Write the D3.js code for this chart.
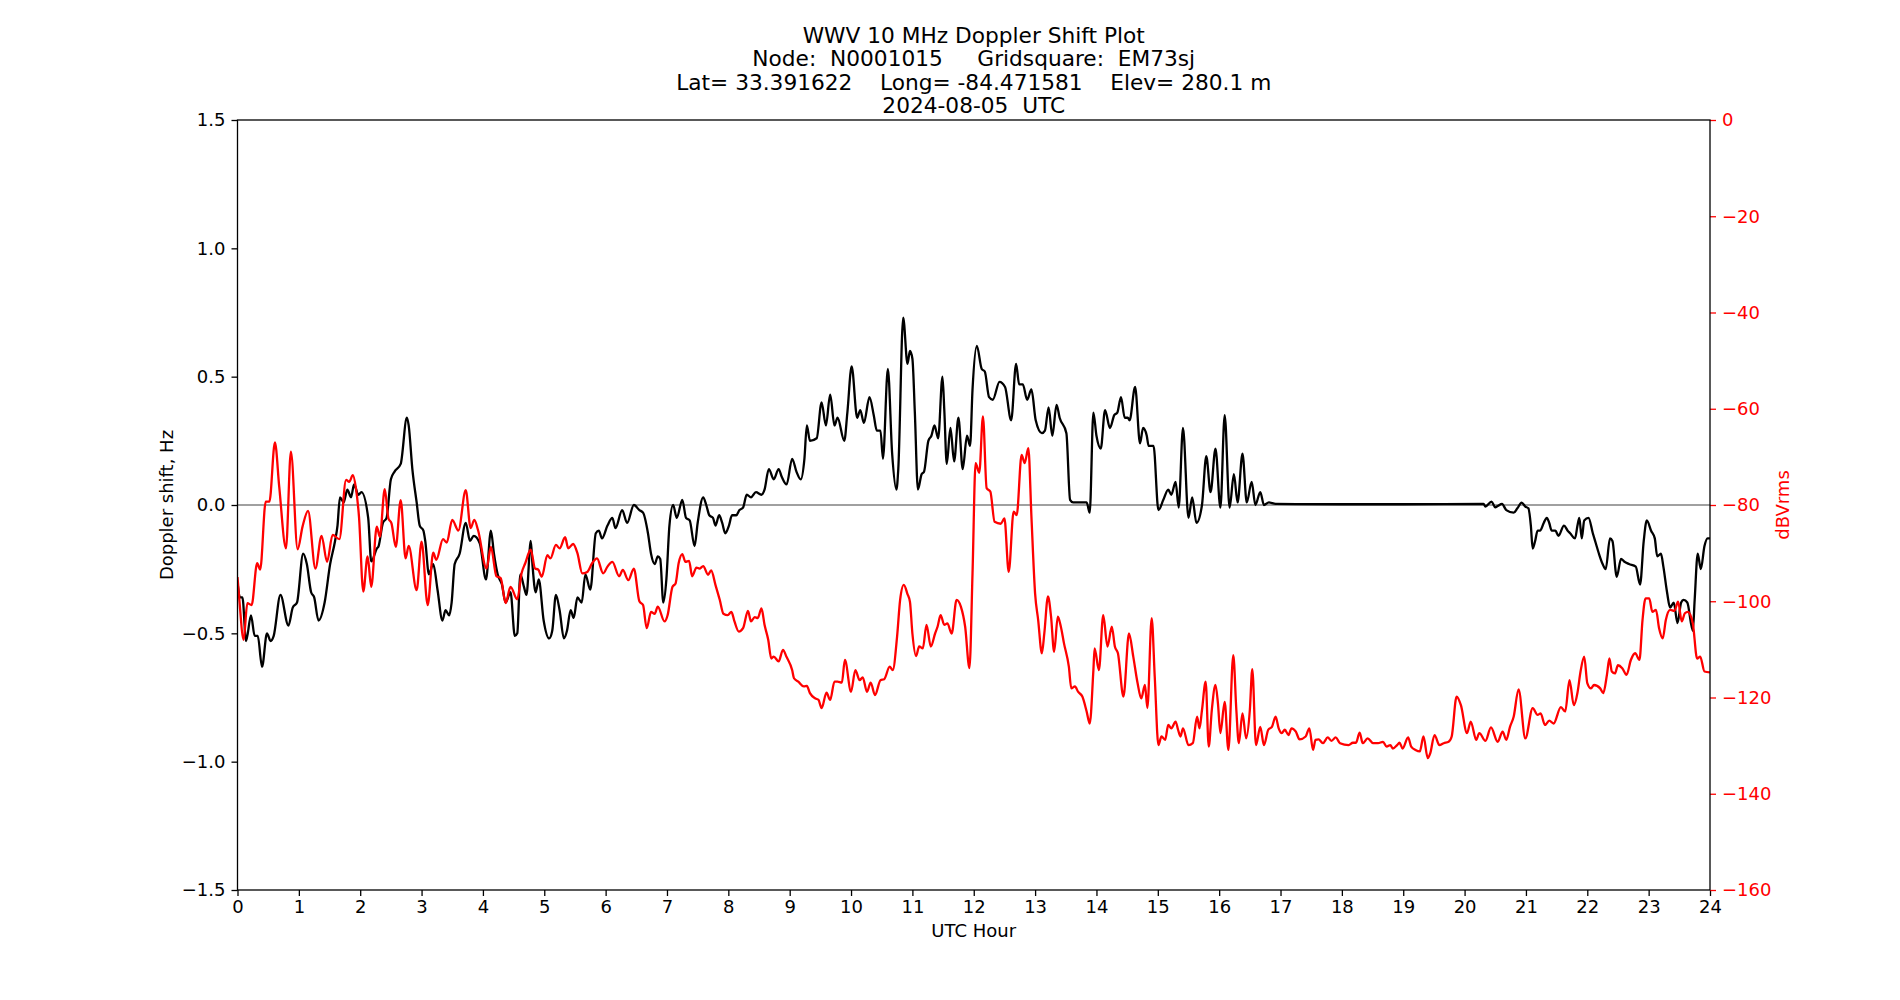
<!DOCTYPE html>
<html>
<head>
<meta charset="utf-8">
<script src="https://cdn.jsdelivr.net/npm/d3@7"></script>
<style>
  body { margin: 0; background: #fff; }
  text { font-family: "DejaVu Sans", sans-serif; }
</style>
</head>
<body>
<div id="chart"></div>
<script>
// title lines
const titleLines = [
  "WWV 10 MHz Doppler Shift Plot",
  "Node:  N0001015     Gridsquare:  EM73sj",
  "Lat= 33.391622    Long= -84.471581    Elev= 280.1 m",
  "2024-08-05  UTC"
];

const hourTicks = d3.range(0, 25, 1);
const shiftTicks = [-1.5, -1.0, -0.5, 0.0, 0.5, 1.0, 1.5];
const powerTicks = [0, -20, -40, -60, -80, -100, -120, -140, -160];

// [UTC hour, Doppler shift Hz]
const dopplerShift = [
  [0, -0.30], [0.04, -0.36], [0.08, -0.36], [0.14, -0.53], [0.22, -0.43], [0.28, -0.51], [0.33, -0.51], [0.40, -0.63],
  [0.48, -0.50], [0.54, -0.53], [0.59, -0.51], [0.70, -0.35], [0.83, -0.47], [0.90, -0.40], [0.97, -0.38], [1.07, -0.19],
  [1.13, -0.23], [1.20, -0.34], [1.25, -0.36], [1.32, -0.45], [1.42, -0.38], [1.51, -0.23], [1.59, -0.14], [1.63, -0.08],
  [1.67, 0.03], [1.73, 0.01], [1.79, 0.06], [1.85, 0.03], [1.90, 0.08], [1.97, 0.04], [2.02, 0.05], [2.13, -0.05],
  [2.18, -0.22], [2.27, -0.17], [2.30, -0.16], [2.37, -0.07], [2.43, -0.05], [2.50, 0.10], [2.56, 0.13], [2.66, 0.16],
  [2.76, 0.34], [2.79, 0.31], [2.85, 0.14], [2.92, 0.01], [2.97, -0.08], [3.03, -0.10], [3.06, -0.14], [3.12, -0.27],
  [3.19, -0.23], [3.26, -0.33], [3.34, -0.45], [3.39, -0.41], [3.45, -0.43], [3.49, -0.38], [3.54, -0.23], [3.62, -0.19],
  [3.72, -0.07], [3.79, -0.14], [3.85, -0.12], [3.95, -0.15], [4.05, -0.29], [4.13, -0.10], [4.18, -0.19], [4.24, -0.27],
  [4.31, -0.31], [4.37, -0.38], [4.45, -0.34], [4.52, -0.51], [4.56, -0.50], [4.61, -0.27], [4.67, -0.32], [4.71, -0.35],
  [4.78, -0.14], [4.81, -0.24], [4.86, -0.34], [4.91, -0.29], [4.99, -0.45], [5.08, -0.52], [5.13, -0.49], [5.19, -0.35],
  [5.25, -0.41], [5.32, -0.52], [5.37, -0.49], [5.43, -0.41], [5.48, -0.44], [5.54, -0.36], [5.61, -0.38], [5.67, -0.27],
  [5.75, -0.33], [5.84, -0.11], [5.89, -0.10], [5.94, -0.13], [6.03, -0.08], [6.11, -0.05], [6.16, -0.09], [6.27, -0.02],
  [6.35, -0.07], [6.46, 0.00], [6.55, -0.02], [6.61, -0.03], [6.69, -0.11], [6.74, -0.19], [6.80, -0.23], [6.85, -0.20],
  [6.89, -0.21], [6.94, -0.38], [6.99, -0.29], [7.04, -0.08], [7.10, 0.00], [7.16, -0.05], [7.25, 0.02], [7.31, -0.05],
  [7.37, -0.06], [7.45, -0.16], [7.50, -0.07], [7.59, 0.03], [7.64, 0.00], [7.69, -0.04], [7.75, -0.05], [7.79, -0.08],
  [7.85, -0.04], [7.90, -0.07], [7.95, -0.11], [8.01, -0.08], [8.06, -0.04], [8.13, -0.04], [8.18, -0.02], [8.24, -0.01],
  [8.30, 0.04], [8.37, 0.03], [8.45, 0.05], [8.54, 0.04], [8.59, 0.06], [8.66, 0.14], [8.74, 0.10], [8.82, 0.14],
  [8.87, 0.11], [8.95, 0.08], [9.04, 0.18], [9.11, 0.13], [9.18, 0.10], [9.24, 0.18], [9.28, 0.31], [9.33, 0.25],
  [9.44, 0.26], [9.52, 0.40], [9.59, 0.31], [9.66, 0.43], [9.73, 0.31], [9.78, 0.34], [9.89, 0.25], [9.94, 0.36],
  [10.01, 0.54], [10.10, 0.34], [10.15, 0.37], [10.21, 0.32], [10.30, 0.42], [10.37, 0.35], [10.42, 0.29], [10.48, 0.29],
  [10.52, 0.18], [10.60, 0.53], [10.67, 0.20], [10.74, 0.06], [10.77, 0.14], [10.85, 0.73], [10.92, 0.55], [10.96, 0.60],
  [11.00, 0.57], [11.04, 0.36], [11.09, 0.06], [11.15, 0.12], [11.19, 0.13], [11.26, 0.25], [11.31, 0.27], [11.36, 0.31],
  [11.42, 0.26], [11.49, 0.50], [11.52, 0.37], [11.56, 0.16], [11.62, 0.30], [11.68, 0.17], [11.75, 0.34], [11.82, 0.14],
  [11.89, 0.27], [11.94, 0.23], [11.98, 0.45], [12.05, 0.62], [12.13, 0.53], [12.18, 0.52], [12.25, 0.42], [12.31, 0.41],
  [12.42, 0.48], [12.51, 0.46], [12.61, 0.33], [12.69, 0.55], [12.74, 0.47], [12.80, 0.47], [12.87, 0.41], [12.94, 0.45],
  [13.01, 0.33], [13.11, 0.28], [13.16, 0.29], [13.22, 0.38], [13.28, 0.27], [13.35, 0.39], [13.40, 0.34], [13.51, 0.28],
  [13.57, 0.02], [13.62, 0.01], [13.73, 0.01], [13.84, 0.01], [13.89, -0.03], [13.95, 0.36], [14.00, 0.27], [14.07, 0.22],
  [14.14, 0.37], [14.22, 0.30], [14.29, 0.35], [14.34, 0.36], [14.40, 0.42], [14.46, 0.34], [14.51, 0.34], [14.54, 0.33],
  [14.63, 0.46], [14.71, 0.24], [14.76, 0.30], [14.82, 0.27], [14.85, 0.23], [14.93, 0.23], [15.01, -0.02], [15.09, 0.02],
  [15.17, 0.06], [15.22, 0.04], [15.29, 0.09], [15.34, -0.01], [15.41, 0.30], [15.50, -0.05], [15.56, 0.03], [15.63, -0.07],
  [15.72, 0.00], [15.79, 0.19], [15.86, 0.05], [15.94, 0.22], [16.02, -0.01], [16.09, 0.35], [16.17, -0.01], [16.24, 0.12],
  [16.30, 0.01], [16.38, 0.20], [16.45, 0.01], [16.53, 0.09], [16.59, 0.00], [16.67, 0.05], [16.73, 0.00], [16.81, 0.01],
  [16.92, 0.004], [18.0, 0.003], [19.0, 0.003], [20.31, 0.004], [20.34, -0.006], [20.44, 0.013], [20.50, -0.009], [20.54, -0.004],
  [20.61, 0.004], [20.68, -0.02], [20.80, -0.03], [20.86, -0.013], [20.93, 0.009], [20.99, -0.006], [21.04, -0.013], [21.08, -0.08],
  [21.11, -0.17], [21.15, -0.14], [21.19, -0.10], [21.23, -0.10], [21.29, -0.07], [21.34, -0.05], [21.38, -0.07], [21.42, -0.10],
  [21.48, -0.10], [21.53, -0.12], [21.62, -0.08], [21.68, -0.10], [21.72, -0.11], [21.80, -0.13], [21.84, -0.08], [21.87, -0.05],
  [21.91, -0.13], [21.95, -0.06], [22.02, -0.05], [22.09, -0.11], [22.14, -0.15], [22.19, -0.19], [22.25, -0.23], [22.30, -0.25],
  [22.37, -0.13], [22.41, -0.14], [22.48, -0.28], [22.55, -0.21], [22.60, -0.22], [22.68, -0.23], [22.79, -0.24], [22.86, -0.31],
  [22.92, -0.14], [22.97, -0.06], [23.04, -0.10], [23.10, -0.13], [23.14, -0.20], [23.20, -0.19], [23.24, -0.24], [23.30, -0.34],
  [23.35, -0.40], [23.41, -0.38], [23.47, -0.46], [23.53, -0.38], [23.57, -0.37], [23.63, -0.38], [23.72, -0.49], [23.75, -0.37],
  [23.80, -0.19], [23.85, -0.25], [23.91, -0.16], [23.96, -0.13], [24.0, -0.13]
];

// [UTC hour, received level dBVrms]
const signalLevel = [
  [0, -95.0], [0.03, -99.7], [0.10, -108.0], [0.16, -100.4], [0.23, -100.8], [0.32, -92.1], [0.37, -93.4], [0.46, -79.3],
  [0.52, -79.3], [0.61, -67.0], [0.68, -76.2], [0.79, -89.0], [0.87, -68.9], [0.98, -89.2], [1.06, -84.5], [1.15, -81.2],
  [1.27, -93.2], [1.37, -86.4], [1.46, -91.8], [1.55, -86.2], [1.66, -87.1], [1.77, -74.8], [1.82, -75.2], [1.88, -73.8],
  [1.93, -76.5], [1.98, -82.4], [2.05, -98.0], [2.12, -90.7], [2.18, -97.0], [2.27, -84.5], [2.32, -86.6], [2.40, -76.7],
  [2.46, -82.8], [2.51, -83.8], [2.58, -88.7], [2.66, -79.0], [2.74, -91.1], [2.79, -88.5], [2.92, -97.7], [3.00, -87.6],
  [3.10, -100.8], [3.19, -89.9], [3.24, -91.4], [3.35, -87.1], [3.41, -87.8], [3.50, -83.1], [3.60, -85.3], [3.72, -76.9],
  [3.80, -84.8], [3.86, -83.1], [3.92, -85.2], [4.06, -93.2], [4.13, -88.7], [4.22, -94.8], [4.29, -95.2], [4.37, -100.4],
  [4.45, -97.0], [4.56, -99.6], [4.63, -94.2], [4.69, -92.1], [4.78, -89.3], [4.85, -93.2], [4.90, -93.4], [4.96, -94.9],
  [5.05, -90.4], [5.10, -91.1], [5.19, -88.3], [5.25, -89.0], [5.34, -86.7], [5.39, -89.0], [5.47, -88.1], [5.54, -90.0],
  [5.62, -94.2], [5.70, -93.9], [5.78, -92.1], [5.86, -91.1], [5.96, -94.2], [6.03, -92.8], [6.11, -91.8], [6.22, -94.8],
  [6.28, -93.5], [6.37, -95.6], [6.46, -93.2], [6.55, -100.0], [6.61, -100.8], [6.67, -105.6], [6.74, -102.2], [6.80, -102.6],
  [6.85, -101.1], [6.96, -104.2], [7.01, -102.9], [7.09, -97.0], [7.14, -96.3], [7.19, -92.1], [7.25, -90.2], [7.30, -91.8],
  [7.36, -91.6], [7.41, -94.8], [7.48, -93.0], [7.53, -93.2], [7.59, -92.7], [7.67, -94.5], [7.72, -93.6], [7.79, -96.6],
  [7.86, -99.7], [7.92, -102.6], [7.99, -102.9], [8.05, -102.2], [8.10, -104.2], [8.17, -106.3], [8.24, -105.6], [8.32, -102.0],
  [8.37, -104.2], [8.43, -103.3], [8.48, -103.5], [8.54, -101.5], [8.59, -104.9], [8.65, -108.0], [8.70, -111.9], [8.74, -111.5],
  [8.82, -112.5], [8.89, -110.1], [8.95, -111.6], [9.04, -114.3], [9.07, -116.0], [9.14, -116.7], [9.23, -117.7], [9.28, -117.6],
  [9.33, -119.1], [9.42, -120.2], [9.47, -120.5], [9.52, -122.2], [9.60, -119.0], [9.66, -120.5], [9.73, -116.7], [9.78, -116.7],
  [9.85, -116.9], [9.90, -112.2], [10.00, -118.8], [10.07, -114.3], [10.14, -116.4], [10.19, -115.8], [10.26, -118.8], [10.32, -116.9],
  [10.39, -119.5], [10.48, -116.4], [10.54, -116.2], [10.63, -113.6], [10.68, -114.3], [10.75, -107.4], [10.80, -99.7], [10.86, -96.6],
  [10.92, -98.5], [10.96, -100.1], [11.00, -106.7], [11.06, -111.4], [11.11, -109.4], [11.17, -109.8], [11.23, -104.9], [11.30, -109.4],
  [11.37, -106.7], [11.41, -105.3], [11.46, -102.9], [11.52, -104.9], [11.57, -104.6], [11.64, -106.7], [11.72, -99.7], [11.79, -101.1],
  [11.86, -105.3], [11.93, -113.9], [11.98, -94.2], [12.03, -71.3], [12.09, -73.3], [12.15, -61.6], [12.21, -76.5], [12.27, -77.2],
  [12.34, -83.5], [12.44, -83.9], [12.50, -82.8], [12.57, -93.9], [12.65, -81.4], [12.70, -82.1], [12.78, -69.6], [12.83, -71.3],
  [12.89, -68.2], [12.94, -82.4], [13.00, -98.4], [13.05, -103.9], [13.11, -110.8], [13.15, -106.7], [13.21, -99.0], [13.26, -103.2],
  [13.31, -110.5], [13.37, -103.2], [13.42, -105.3], [13.47, -108.7], [13.55, -113.6], [13.59, -118.1], [13.65, -117.7], [13.70, -118.8],
  [13.77, -119.8], [13.84, -122.9], [13.89, -125.4], [13.95, -114.3], [13.97, -109.8], [14.04, -114.3], [14.11, -102.9], [14.18, -109.4],
  [14.25, -105.3], [14.30, -109.4], [14.35, -110.8], [14.44, -119.8], [14.53, -106.7], [14.60, -111.5], [14.67, -117.0], [14.73, -120.2],
  [14.79, -117.4], [14.83, -122.2], [14.90, -103.5], [14.95, -115.7], [15.01, -129.9], [15.06, -128.1], [15.12, -128.8], [15.17, -125.7],
  [15.22, -126.4], [15.29, -125.0], [15.33, -126.7], [15.37, -128.1], [15.41, -126.4], [15.50, -129.9], [15.57, -129.5], [15.64, -124.0],
  [15.68, -126.4], [15.72, -122.6], [15.78, -116.7], [15.83, -130.2], [15.88, -122.6], [15.94, -117.4], [15.98, -121.2], [16.02, -127.4],
  [16.09, -120.9], [16.15, -130.9], [16.23, -111.2], [16.28, -122.6], [16.32, -129.5], [16.38, -123.3], [16.44, -128.5], [16.50, -122.6],
  [16.54, -114.1], [16.60, -129.9], [16.67, -126.1], [16.73, -129.9], [16.80, -126.7], [16.86, -126.1], [16.92, -124.0], [16.97, -126.4],
  [17.02, -127.4], [17.07, -126.7], [17.13, -127.8], [17.18, -126.4], [17.25, -127.1], [17.31, -128.7], [17.41, -128.1], [17.47, -126.4],
  [17.53, -130.9], [17.57, -128.8], [17.62, -128.7], [17.69, -129.5], [17.77, -128.3], [17.83, -129.0], [17.90, -128.3], [17.97, -129.5],
  [18.11, -129.9], [18.18, -129.4], [18.23, -129.4], [18.29, -127.3], [18.34, -129.5], [18.42, -128.5], [18.51, -129.5], [18.59, -129.5],
  [18.67, -129.2], [18.73, -130.2], [18.79, -129.9], [18.83, -130.6], [18.90, -129.9], [18.94, -129.4], [18.99, -130.6], [19.08, -128.3],
  [19.13, -130.2], [19.20, -130.9], [19.27, -131.2], [19.33, -128.1], [19.40, -132.6], [19.44, -131.6], [19.51, -127.8], [19.59, -129.9],
  [19.66, -129.5], [19.74, -129.2], [19.79, -128.1], [19.87, -119.8], [19.94, -121.6], [20.04, -127.4], [20.10, -125.0], [20.19, -128.8],
  [20.24, -127.4], [20.34, -129.0], [20.43, -126.2], [20.54, -129.2], [20.62, -127.1], [20.68, -128.8], [20.74, -126.1], [20.80, -124.0],
  [20.88, -118.3], [20.99, -128.5], [21.11, -122.2], [21.19, -123.6], [21.24, -123.3], [21.31, -125.7], [21.38, -124.8], [21.45, -125.4],
  [21.57, -122.0], [21.64, -122.9], [21.71, -116.4], [21.78, -121.6], [21.84, -119.0], [21.89, -114.6], [21.95, -111.5], [22.00, -117.0],
  [22.06, -118.1], [22.11, -117.4], [22.21, -118.1], [22.26, -119.1], [22.32, -115.3], [22.36, -111.9], [22.40, -114.6], [22.45, -115.0],
  [22.50, -113.3], [22.57, -113.9], [22.64, -115.3], [22.71, -112.2], [22.78, -110.8], [22.85, -112.2], [22.90, -103.9], [22.95, -99.4],
  [23.01, -99.4], [23.06, -102.2], [23.12, -101.8], [23.17, -105.6], [23.23, -107.7], [23.28, -103.9], [23.35, -101.8], [23.42, -102.0],
  [23.48, -100.1], [23.54, -104.2], [23.59, -102.5], [23.64, -102.2], [23.72, -104.6], [23.79, -111.9], [23.84, -111.5], [23.91, -114.6],
  [24.0, -114.8]
];

const w = 1900;
const h = 1000;
const plotLeft = 237.5, plotRight = 1710, plotTop = 120, plotBottom = 890;
const tick = 6;
const fontSize = 18;

const xScale = d3.scaleLinear().domain([0, 24]).range([plotLeft, plotRight]);
const yScale = d3.scaleLinear().domain([-1.5, 1.5]).range([plotBottom, plotTop]);
const y2Scale = d3.scaleLinear().domain([-160, 0]).range([plotBottom, plotTop]);

const svg = d3.select('#chart')
              .append('svg')
              .attr('width', w)
              .attr('height', h);

svg.append('defs').append('clipPath').attr('id', 'plotclip')
   .append('rect')
   .attr('x', plotLeft).attr('y', plotTop)
   .attr('width', plotRight - plotLeft).attr('height', plotBottom - plotTop);

// zero reference line
svg.append('line')
   .attr('x1', plotLeft).attr('x2', plotRight)
   .attr('y1', yScale(0)).attr('y2', yScale(0))
   .attr('stroke', 'grey')
   .attr('stroke-width', 1.3);

const plot = svg.append('g').attr('clip-path', 'url(#plotclip)');

plot.append('path')
    .datum(dopplerShift)
    .attr('fill', 'none')
    .attr('stroke', 'black')
    .attr('stroke-width', 2.3)
    .attr('stroke-linejoin', 'round')
    .attr('d', d3.line()
                 .x(d => xScale(d[0]))
                 .y(d => yScale(d[1]))
                 .curve(d3.curveMonotoneX));

plot.append('path')
    .datum(signalLevel)
    .attr('fill', 'none')
    .attr('stroke', 'red')
    .attr('stroke-width', 2.3)
    .attr('stroke-linejoin', 'round')
    .attr('d', d3.line()
                 .x(d => xScale(d[0]))
                 .y(d => y2Scale(d[1]))
                 .curve(d3.curveMonotoneX));

// axes
const xAxis = d3.axisBottom(xScale).tickValues(hourTicks).tickFormat(d3.format('d'))
                .tickSize(tick).tickPadding(tick).tickSizeOuter(0);
const yAxis = d3.axisLeft(yScale).tickValues(shiftTicks).tickFormat(d3.format('.1f'))
                .tickSize(tick).tickPadding(tick).tickSizeOuter(0);
const y2Axis = d3.axisRight(y2Scale).tickValues(powerTicks).tickFormat(d3.format('d'))
                 .tickSize(tick).tickPadding(tick).tickSizeOuter(0);

const gx = svg.append('g')
              .attr('transform', `translate(0, ${plotBottom})`)
              .call(xAxis);
const gy = svg.append('g')
              .attr('transform', `translate(${plotLeft}, 0)`)
              .call(yAxis);
const gy2 = svg.append('g')
               .attr('transform', `translate(${plotRight}, 0)`)
               .call(y2Axis);

[gx, gy, gy2].forEach(g => {
  g.select('.domain').remove();
  g.selectAll('text').attr('font-size', fontSize).attr('font-family', '"DejaVu Sans", sans-serif').attr('fill', 'black');
  g.selectAll('line').attr('stroke-width', 1.3);
});
gx.selectAll('text').attr('dy', '0.62em');
gy2.selectAll('text').attr('fill', 'red');
gy2.selectAll('line').attr('stroke', 'red');

// spines
svg.append('rect')
   .attr('x', plotLeft).attr('y', plotTop)
   .attr('width', plotRight - plotLeft).attr('height', plotBottom - plotTop)
   .attr('fill', 'none')
   .attr('stroke', 'black')
   .attr('stroke-width', 1.3);

// labels
svg.append('text')
   .attr('x', (plotLeft + plotRight) / 2)
   .attr('y', 937)
   .attr('text-anchor', 'middle')
   .attr('font-size', fontSize)
   .text('UTC Hour');

svg.append('text')
   .attr('transform', `translate(173, ${(plotTop + plotBottom) / 2}) rotate(-90)`)
   .attr('text-anchor', 'middle')
   .attr('font-size', fontSize)
   .text('Doppler shift, Hz');

svg.append('text')
   .attr('transform', `translate(1789, ${(plotTop + plotBottom) / 2}) rotate(-90)`)
   .attr('text-anchor', 'middle')
   .attr('font-size', fontSize)
   .attr('fill', 'red')
   .text('dBVrms');

svg.append('g')
   .selectAll('text')
   .data(titleLines)
   .enter()
   .append('text')
   .attr('x', (plotLeft + plotRight) / 2)
   .attr('y', (d, i) => 43 + i * 23.4)
   .attr('text-anchor', 'middle')
   .attr('font-size', 21.7)
   .style('white-space', 'pre')
   .text(d => d);
</script>
</body>
</html>
